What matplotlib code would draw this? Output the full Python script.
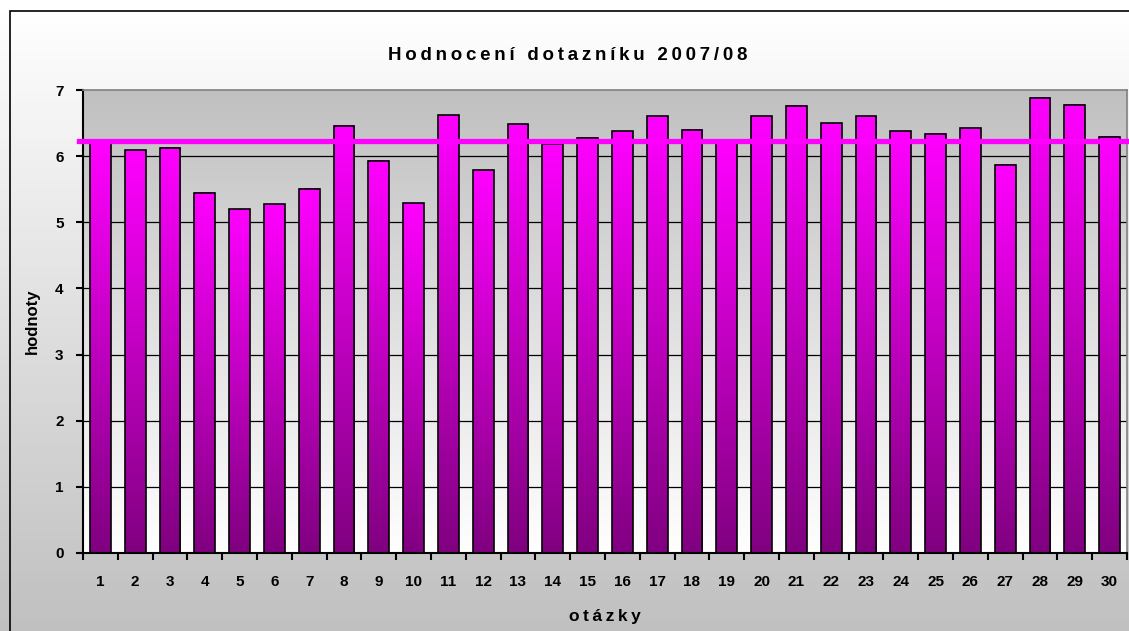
import numpy as np
import matplotlib
matplotlib.use("Agg")
import matplotlib.pyplot as plt
from matplotlib.colors import LinearSegmentedColormap
from matplotlib.patches import Rectangle

plt.rcParams['font.family'] = ['Liberation Sans', 'DejaVu Sans']

# data
otazky = list(range(1, 31))
hodnoty = [6.20, 6.09, 6.13, 5.45, 5.20, 5.27, 5.51, 6.46, 5.93, 5.29,
           6.62, 5.79, 6.48, 6.19, 6.28, 6.38, 6.60, 6.40, 6.21, 6.60,
           6.76, 6.50, 6.60, 6.38, 6.34, 6.42, 5.87, 6.88, 6.78, 6.29]
prumer = 6.23
title = "Hodnocení dotazníku 2007/08"
xlabel = "otázky"
ylabel = "hodnoty"


def spaced(s, sep="\u2009"):
    return sep.join(s)


W, H = 1129, 631
fig = plt.figure(figsize=(W / 100, H / 100), dpi=100)

# figure background: white at top -> grey at bottom, framed
bg = fig.add_axes([0, 0, 1, 1], zorder=-10)
bg.axis("off")
grad = np.linspace(0, 1, 256).reshape(-1, 1)
bg_cmap = LinearSegmentedColormap.from_list("bg", ["#ffffff", "#c0c0c0"])
bg.imshow(grad, cmap=bg_cmap, aspect="auto", extent=(0, 1, 0, 1 - 11 / H))
bg.set_xlim(0, 1)
bg.set_ylim(0, 1)
bg.add_patch(Rectangle((10 / W, -0.01), 1, 1 - 11 / H + 0.01, fill=False,
                       edgecolor="black", lw=1.2, transform=bg.transAxes))

ax = fig.add_axes([83 / W, 1 - 553 / H, (1127 - 83) / W, (553 - 90) / H])
ax.set_xlim(0.5, 30.5)
ax.set_ylim(0, 7)

# plot area gradient: grey at top -> white at bottom
pa_cmap = LinearSegmentedColormap.from_list("pa", ["#ffffff", "#c0c0c0"])
ax.imshow(grad, cmap=pa_cmap, aspect="auto", origin="lower",
          extent=(0.5, 30.5, 0, 7), zorder=0)

for y in range(1, 7):
    ax.axhline(y, color="black", lw=0.9, zorder=1)

# bars with per-bar vertical gradient
bar_cmap = LinearSegmentedColormap.from_list("bar", ["#800080", "#ff00ff"])
bw = 0.6
for x, v in zip(otazky, hodnoty):
    ax.imshow(grad, cmap=bar_cmap, aspect="auto", origin="lower",
              extent=(x - bw / 2, x + bw / 2, 0, v), zorder=2)
ax.bar(otazky, hodnoty, width=bw, fill=False, edgecolor="black", lw=1.2, zorder=3)
ax.set_xlim(0.5, 30.5)
ax.set_ylim(0, 7)

ax.axhline(prumer, xmin=-0.004, xmax=1.01, clip_on=False, color="#ff00ff",
           lw=3.8, zorder=4)

for s in ["top", "right"]:
    ax.spines[s].set_color("#808080")
    ax.spines[s].set_linewidth(1.2)
for s in ["left", "bottom"]:
    ax.spines[s].set_color("black")
    ax.spines[s].set_linewidth(1.5)

ax.set_yticks(range(0, 8))
ax.tick_params(axis="y", direction="out", length=5, width=1.5, labelsize=11, pad=9)
ax.set_xticks(otazky)
ax.set_xticks(np.arange(0.5, 31, 1), minor=True)
ax.tick_params(axis="x", which="major", length=0, labelsize=11, pad=16)
ax.tick_params(axis="x", which="minor", direction="out", length=5, width=1.5)
for lab in ax.get_xticklabels() + ax.get_yticklabels():
    lab.set_fontweight("bold")

ax.set_xlabel(spaced(xlabel), fontsize=12.5, fontweight="bold", labelpad=14)
ax.set_ylabel(ylabel, fontsize=12, fontweight="bold", labelpad=11)
fig.text(568 / W, 1 - 56 / H, spaced(title), ha="center", va="center",
         fontsize=13.5, fontweight="bold")

fig.savefig("out.png", dpi=100)
